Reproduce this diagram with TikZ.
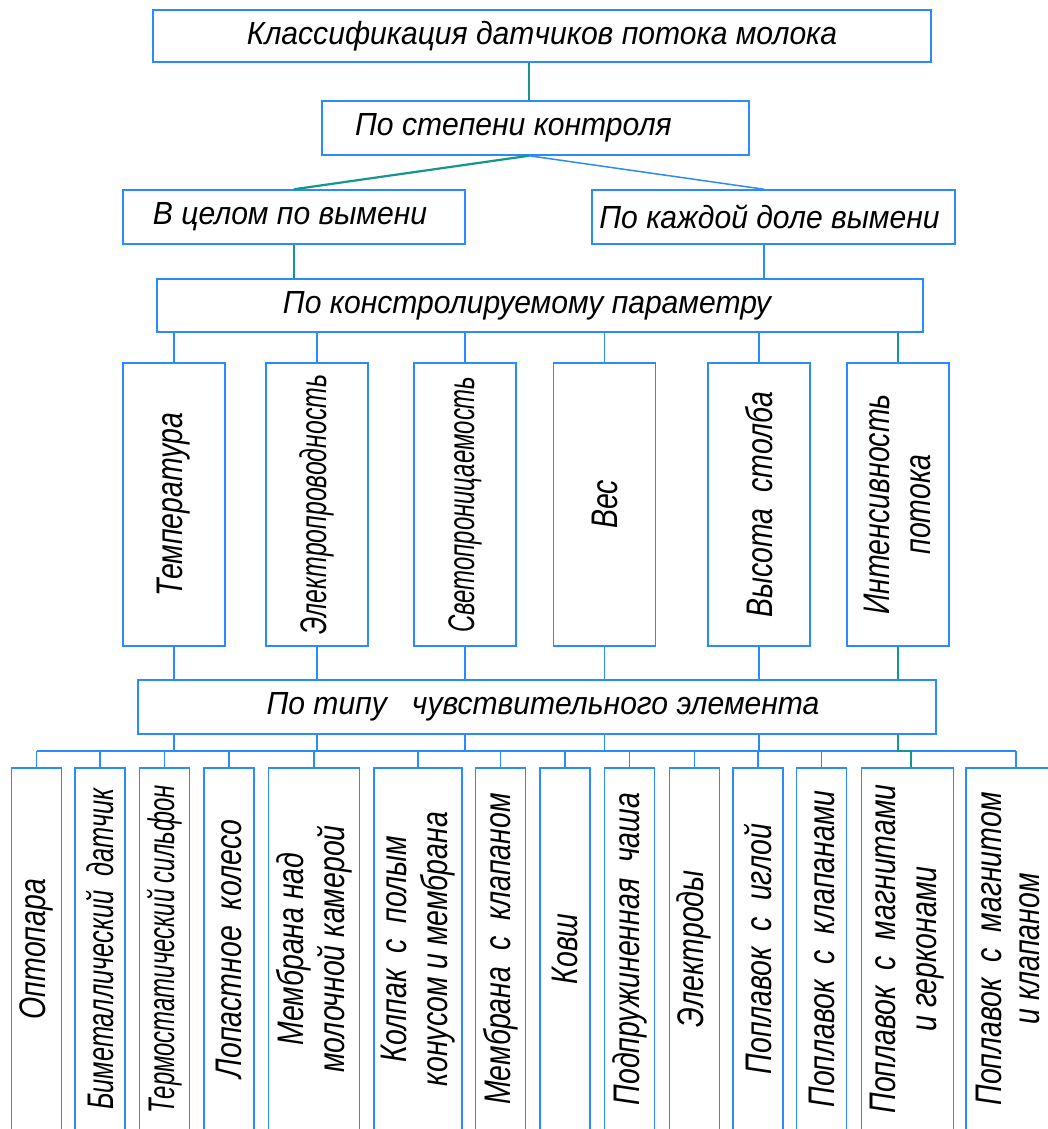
\documentclass[tikz,border=0pt]{standalone}
\usepackage{fontspec}
\newfontfamily\hf{Liberation Sans}[FakeStretch=0.94]
\newfontfamily\vf{Liberation Sans}[FakeStretch=0.77]
\definecolor{cblue}{RGB}{40,140,255}
\definecolor{cteal}{RGB}{20,150,140}
\newcommand{\sqz}[2]{\scalebox{#1}[1]{#2}}
\tikzset{
  box/.style={draw=cblue, line width=1.5pt, fill=white, inner sep=0pt, align=center,
    font=\hf\itshape\fontsize{32}{40}\selectfont},
  vbox/.style={box, rotate=90, font=\vf\itshape\fontsize{37}{41}\selectfont},
  bl/.style={draw=cblue, line width=1.5pt},
  tl/.style={draw=cteal, line width=2.2pt},
}
\begin{document}
\begin{tikzpicture}[x=1pt,y=-1pt]
\useasboundingbox (0,0) rectangle (1048,1129);
\clip (0,0) rectangle (1048,1129);
\fill[white] (0,0) rectangle (1048,1129);
% levels
\node[box, minimum width=778, minimum height=52] (top) at (542,36) {Классификация датчиков потока молока};
\node[box, minimum width=427, minimum height=54] (b2) at (535.5,128) {\hspace*{-44pt}По степени контроля};
\node[box, minimum width=342, minimum height=54] (b3l) at (294,217) {\hspace*{-8pt}В целом по вымени};
\node[box, minimum width=363, minimum height=54] (b3r) at (773.5,217) {\hspace*{-8pt}По каждой доле вымени};
\node[box, minimum width=766, minimum height=53] (b4) at (540,305.5) {\hspace*{-26pt}По констролируемому параметру};
% parameters
\node[vbox, minimum width=283, minimum height=102] (r1) at (174,504.5) {Температура};
\node[vbox, minimum width=283, minimum height=102] (r2) at (317,504.5) {\sqz{0.87}{Электропроводность}};
\node[vbox, minimum width=283, minimum height=102] (r3) at (465,504.5) {\sqz{0.84}{Светопроницаемость}};
\node[vbox, minimum width=283, minimum height=102] (r4) at (604.5,504.5) {Вес};
\node[vbox, minimum width=283, minimum height=102] (r5) at (759,504.5) {Высота~~столба};
\node[vbox, minimum width=283, minimum height=102] (r6) at (897.75,504.5) {Интенсивность\\потока};
\node[box, minimum width=798, minimum height=54] (b6) at (537,707) {\hspace*{12pt}По типу~~ чувствительного элемента};
% sensing elements
\node[vbox, minimum width=362, minimum height=50] (s1) at (36.5,949) {Оптопара};
\node[vbox, minimum width=362, minimum height=50] (s2) at (100.2,949) {\sqz{0.89}{Биметаллический~~датчик}};
\node[vbox, minimum width=362, minimum height=50] (s3) at (164.3,949) {\sqz{0.84}{Термостатический сильфон}};
\node[vbox, minimum width=362, minimum height=50] (s4) at (229,949) {Лопастное~~колесо};
\node[vbox, minimum width=362, minimum height=91] (s5) at (313.8,949) {Мембрана над\\молочной камерой};
\node[vbox, minimum width=362, minimum height=88] (s6) at (417.8,949) {Колпак~~с~~полым\\конусом и мембрана};
\node[vbox, minimum width=362, minimum height=50] (s7) at (500.3,949) {Мембрана~~с~~клапаном};
\node[vbox, minimum width=362, minimum height=50] (s8) at (565.2,949) {Ковш};
\node[vbox, minimum width=362, minimum height=50] (s9) at (629.5,949) {Подпружиненная~~чаша};
\node[vbox, minimum width=362, minimum height=50] (s10) at (694.3,949) {Электроды};
\node[vbox, minimum width=362, minimum height=50] (s11) at (758.2,949) {Поплавок~~с~~иглой};
\node[vbox, minimum width=362, minimum height=50] (s12) at (821.5,949) {Поплавок~~с~~клапанами};
\node[vbox, minimum width=362, minimum height=92] (s13) at (907.5,949) {Поплавок~~с~~магнитами\\и герконами};
\node[vbox, minimum width=362, minimum height=84, font=\vf\itshape\fontsize{37}{38}\selectfont] (s14) at (1008,949) {Поплавок~~с~~магнитом\\и клапаном};
% connectors
\coordinate (j1) at (529,0);
\coordinate (j2) at (764,0);
\coordinate (j3) at (911,0);
\coordinate (j4) at (1016,0);
\coordinate (bus) at (0,751);
\draw[tl] (top.south -| j1) -- (b2.north -| j1);
\draw[tl] (b2.south -| j1) -- (b3l.north);
\draw[bl] (b2.south -| j1) -- (b3r.north -| j2);
\draw[tl] (b3l.south) -- (b3l.south |- b4.north);
\draw[bl] (b3r.south -| j2) -- (j2 |- b4.north);
\foreach \r in {r1,r2,r3,r4,r5} {
  \draw[bl] (\r.east |- b4.south) -- (\r.east);
  \draw[bl] (\r.west) -- (\r.west |- b6.north);
  \draw[bl] (\r.west |- b6.south) -- (\r.west |- bus);
}
\draw[bl] (s1.east |- bus) -- (j4 |- bus);
\foreach \s in {s1,s2,s3,s4,s5,s6,s7,s8,s9,s10,s11,s12} {
  \draw[bl] (\s.east |- bus) -- (\s.east);
}
\draw[bl] (j4 |- bus) -- (s14.east -| j4);
\draw[tl] (r6.east |- b4.south) -- (r6.east);
\draw[tl] (r6.west) -- (r6.west |- b6.north);
\draw[tl] (r6.west |- b6.south) -- (r6.west |- bus) -- (j3 |- bus) -- (s13.east -| j3);
\end{tikzpicture}
\end{document}
